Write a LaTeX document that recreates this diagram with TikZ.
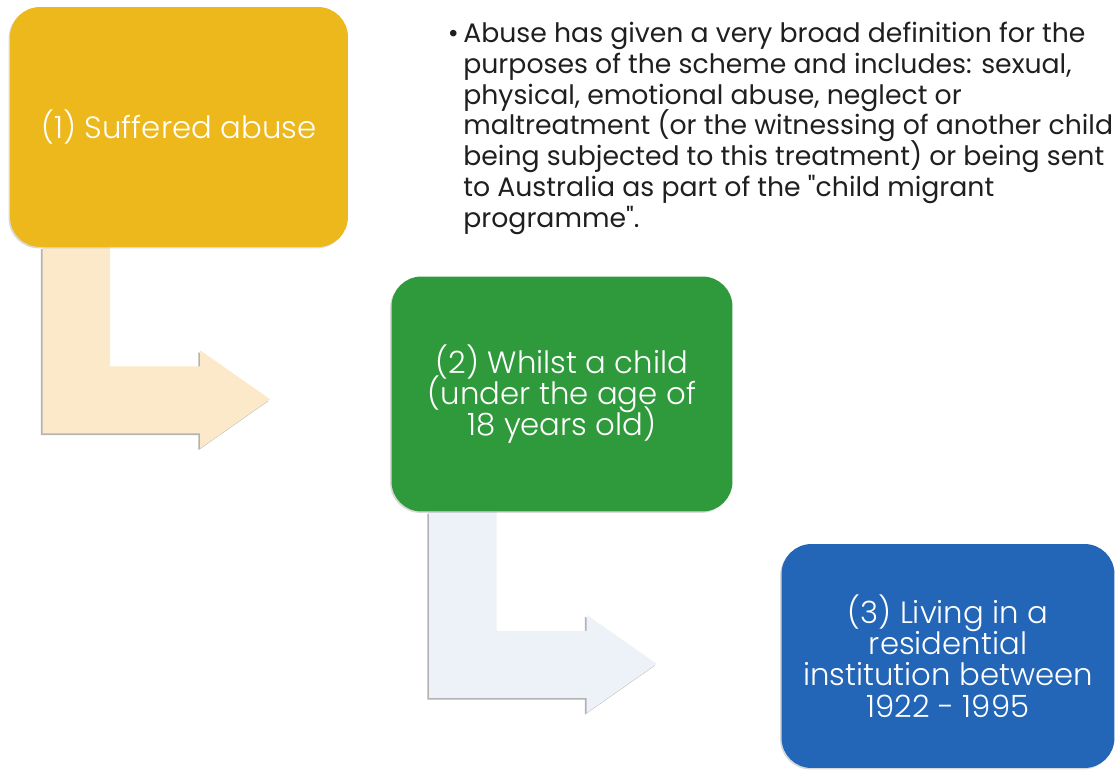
\documentclass[tikz,border=0pt]{standalone}
\usepackage{fontspec}
\setmainfont{Poppins}
\IfFontExistsTF{Poppins Light}{\newfontfamily\lightfont{Poppins Light}}{\newfontfamily\lightfont{Poppins}}
\usepackage{xcolor}
\usepackage{tikz}
\usetikzlibrary{calc}
\usetikzlibrary{shadows}
\usetikzlibrary{backgrounds}

\newcommand{\tightlines}{\lineskiplimit=-100pt\relax}

\definecolor{stageyellow}{HTML}{EDB81B}
\definecolor{stagegreen}{HTML}{2F9A3B}
\definecolor{stageblue}{HTML}{2365B6}
\definecolor{arrowpeach}{HTML}{FCE9C9}
\definecolor{arrowmist}{HTML}{EDF2F8}

\begin{document}
\begin{tikzpicture}[x = 0.02cm, y = -0.02cm,
		stage/.style = {rounded corners = 0.6cm, text = white, align = center, inner sep = 0pt,
			font = \lightfont\fontsize{17.5}{17.8}\selectfont\tightlines,
			drop shadow = {shadow xshift = -0.8pt, shadow yshift = -0.8pt, opacity = 0.3}},
		bent/.style = {drop shadow = {shadow xshift = -1pt, shadow yshift = -1pt, opacity = 0.6}}]
		\useasboundingbox (0,0) rectangle (1117,780);
		\node[stage, fill = stageyellow, minimum width = 6.76cm, minimum height = 4.8cm] (suffered) at (179,127) {(1) Suffered abuse};
		\node[stage, fill = stagegreen, minimum width = 6.82cm, minimum height = 4.7cm] (child) at (562,394) {(2) Whilst a child\\(under the age of\\18 years old)};
		\node[stage, fill = stageblue, minimum width = 6.66cm, minimum height = 4.48cm] (living) at (948,656) {(3) Living in a\\residential\\institution between\\1922 - 1995};
		\node[anchor = north west, align = left, inner sep = 0pt, text = black!88,
			font = \fontsize{15.2}{17.5}\selectfont\tightlines] (definition) at (463,22)
			{\llap{\textbullet\,}Abuse has given a very broad definition for the\\
			purposes of the scheme and includes: sexual,\\
			physical, emotional abuse, neglect or\\
			maltreatment (or the witnessing of another child\\
			being subjected to this treatment) or being sent\\
			to Australia as part of the \textquotedbl child migrant\\
			programme\textquotedbl.};
		% bent arrows under the boxes
		\begin{scope}[on background layer]
			\foreach \from/\col/\dx in {suffered/arrowpeach/33, child/arrowmist/38}{
				\fill[\col, bent] ($(\from.south west) + (\dx,0)$) -- ++(67.5,0) -- ++(0,119) -- ++(90,0)
					-- ++(0,-16) -- ++(70,49) -- ++(-70,49) -- ++(0,-15) -- ++(-157.5,0) -- cycle;
			}
		\end{scope}
	\end{tikzpicture}
\end{document}
